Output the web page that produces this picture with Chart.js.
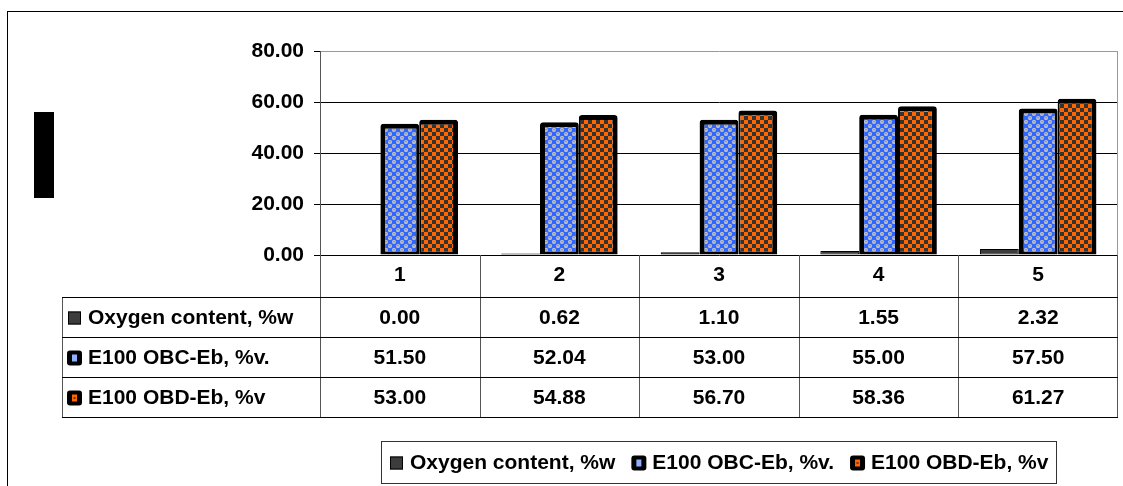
<!DOCTYPE html>
<html>
<head>
<meta charset="utf-8">
<script src="https://cdn.jsdelivr.net/npm/chart.js@4/dist/chart.umd.min.js"></script>
<style>
  html, body { margin: 0; padding: 0; background: #fff; }
  #wrap { width: 1123px; height: 486px; position: relative; }
</style>
</head>
<body>
<div id="wrap"><canvas id="chart" width="1123" height="486"></canvas></div>
<script>
// ---- data ----
const categories = ['1', '2', '3', '4', '5'];
const seriesNames = ['Oxygen content, %w', 'E100 OBC-Eb, %v.', 'E100 OBD-Eb, %v'];
const oxygenContent = [0.00, 0.62, 1.10, 1.55, 2.32];
const obcValues = [51.50, 52.04, 53.00, 55.00, 57.50];
const obdValues = [53.00, 54.88, 56.70, 58.36, 61.27];
const yTicks = [0, 20, 40, 60, 80];

const FONT = '"Liberation Sans", Arial, sans-serif';
const BOLD21 = 'bold 21px ' + FONT;

const canvas = document.getElementById('chart');
const mainCtx = canvas.getContext('2d');

// 8x8 fill tiles for the patterned bars
function makePattern(draw) {
  const t = document.createElement('canvas');
  t.width = 8; t.height = 8;
  const g = t.getContext('2d');
  draw(g);
  return mainCtx.createPattern(t, 'repeat');
}
const bluePattern = makePattern(g => {
  g.fillStyle = '#2f66ff';
  g.fillRect(0, 0, 8, 8);
  g.fillStyle = '#c0c0c0';
  [[2, 2], [6, 6]].forEach(([cx, cy]) => {
    g.beginPath(); g.arc(cx, cy, 2.1, 0, Math.PI * 2); g.fill();
  });
  g.strokeStyle = '#5b82f0'; g.lineWidth = 0.8;
  g.beginPath(); g.arc(2, 2.6, 1.1, Math.PI * 1.1, Math.PI * 1.9); g.stroke();
  g.beginPath(); g.arc(6, 6.6, 1.1, Math.PI * 1.1, Math.PI * 1.9); g.stroke();
});
const orangePattern = makePattern(g => {
  g.fillStyle = '#ff6600';
  g.fillRect(0, 0, 8, 8);
  g.fillStyle = '#333333';
  g.fillRect(4, 0, 4, 4);
  g.fillRect(0, 4, 4, 4);
});

// small legend / table key markers
function roundRect(ctx, x, y, w, h, r) {
  ctx.beginPath();
  ctx.moveTo(x + r, y);
  ctx.arcTo(x + w, y, x + w, y + h, r);
  ctx.arcTo(x + w, y + h, x, y + h, r);
  ctx.arcTo(x, y + h, x, y, r);
  ctx.arcTo(x, y, x + w, y, r);
  ctx.closePath();
}
function drawKey(ctx, idx, x, cy) {
  if (idx === 0) {
    ctx.fillStyle = '#3c3c3c';
    ctx.fillRect(x + 1, cy - 6.5, 13, 13);
    ctx.strokeStyle = '#000'; ctx.lineWidth = 1;
    ctx.strokeRect(x + 1.5, cy - 6, 12, 12);
    return;
  }
  ctx.fillStyle = '#000';
  roundRect(ctx, x, cy - 7.5, 15, 15, 3);
  ctx.fill();
  ctx.fillStyle = idx === 1 ? '#8fb0ff' : '#ff6600';
  ctx.fillRect(x + 5, cy - 3.5, 5, 7);
  if (idx === 2) { ctx.fillStyle = '#7a3000'; ctx.fillRect(x + 6.5, cy - 1, 2, 2); }
}

// data table under the plot, outer frame, legend box
const tablePlugin = {
  id: 'dataTable',
  afterDraw(chart) {
    const ctx = chart.ctx;
    const a = chart.chartArea;
    const xs = chart.scales.x;
    const rows = [oxygenContent, obcValues, obdValues];
    const headH = 42, rowH = 40;
    const top = a.bottom;
    const rowTop = top + headH;
    const bottom = rowTop + rows.length * rowH;
    const left = 62;

    ctx.save();
    // outer frame and blacked-out axis title block
    ctx.strokeStyle = '#000'; ctx.lineWidth = 1;
    ctx.strokeRect(7.5, 11.5, 1400, 700);
    ctx.fillStyle = '#000';
    ctx.fillRect(34, 112, 20, 86);

    // plot area right border
    ctx.strokeStyle = '#999';
    ctx.beginPath(); ctx.moveTo(a.right - 0.5, a.top); ctx.lineTo(a.right - 0.5, a.bottom); ctx.stroke();

    // column boundaries
    const centers = categories.map((_, i) => xs.getPixelForValue(i));
    const bounds = [a.left];
    for (let i = 1; i < centers.length; i++) bounds.push((centers[i - 1] + centers[i]) / 2);
    bounds.push(a.right);

    ctx.strokeStyle = '#555';
    bounds.forEach((bx, i) => {
      const px = Math.round(bx) + (i === bounds.length - 1 ? -0.5 : 0.5);
      ctx.beginPath(); ctx.moveTo(px, top); ctx.lineTo(px, bottom); ctx.stroke();
    });
    ctx.beginPath(); ctx.moveTo(left + 0.5, rowTop); ctx.lineTo(left + 0.5, bottom); ctx.stroke();

    // row lines
    ctx.strokeStyle = '#000';
    for (let r = 0; r <= rows.length; r++) {
      const y = Math.round(rowTop + r * rowH) + 0.5;
      ctx.beginPath(); ctx.moveTo(left, y); ctx.lineTo(a.right, y); ctx.stroke();
    }

    // cells
    ctx.font = BOLD21;
    ctx.fillStyle = '#000';
    ctx.textBaseline = 'middle';
    rows.forEach((vals, r) => {
      const cy = rowTop + r * rowH + rowH / 2 + 1;
      ctx.textAlign = 'center';
      ctx.fillStyle = '#000';
      vals.forEach((v, i) => ctx.fillText(v.toFixed(2), centers[i], cy));
      drawKey(ctx, r, left + 5, cy);
      ctx.fillStyle = '#000';
      ctx.textAlign = 'left';
      ctx.fillText(seriesNames[r], left + 26, cy);
    });

    // legend
    const lgTop = 441, lgH = 42, keyW = 15, keyGap = 6, itemGap = 16, padX = 8;
    const widths = seriesNames.map(s => ctx.measureText(s).width);
    const total = widths.reduce((s, w) => s + keyW + keyGap + w, 0) + itemGap * (seriesNames.length - 1) + padX * 2;
    const lgLeft = Math.round((a.left + a.right) / 2 - total / 2);
    ctx.strokeStyle = '#333';
    ctx.strokeRect(lgLeft + 0.5, lgTop + 0.5, Math.round(total), lgH);
    let lx = lgLeft + padX;
    const lcy = lgTop + lgH / 2 + 1;
    seriesNames.forEach((s, i) => {
      drawKey(ctx, i, lx, lcy);
      ctx.fillStyle = '#000';
      ctx.textAlign = 'left';
      ctx.fillText(s, lx + keyW + keyGap, lcy);
      lx += keyW + keyGap + widths[i] + itemGap;
    });
    ctx.restore();
  }
};

const thickBorder = (left, right) => ({ top: 5, left, right, bottom: 3 });

new Chart(canvas, {
  type: 'bar',
  data: {
    labels: categories,
    datasets: [
      {
        label: seriesNames[0],
        data: oxygenContent,
        backgroundColor: '#3c3c3c',
        borderColor: '#000',
        borderWidth: 1,
        borderSkipped: false
      },
      {
        label: seriesNames[1],
        data: obcValues,
        backgroundColor: bluePattern,
        borderColor: '#000',
        borderWidth: thickBorder(5, 3),
        borderSkipped: false,
        borderRadius: { topLeft: 3, topRight: 3 }
      },
      {
        label: seriesNames[2],
        data: obdValues,
        backgroundColor: orangePattern,
        borderColor: '#000',
        borderWidth: thickBorder(2, 5),
        borderSkipped: false,
        borderRadius: { topLeft: 3, topRight: 3 }
      }
    ]
  },
  options: {
    responsive: false,
    animation: false,
    datasets: { bar: { categoryPercentage: 0.73, barPercentage: 1.0 } },
    layout: { padding: { top: 51, left: 0, right: 5, bottom: 0 } },
    plugins: { legend: { display: false }, tooltip: { enabled: false } },
    scales: {
      x: {
        grid: { display: false, drawTicks: false },
        border: { display: false },
        ticks: { font: { family: FONT, size: 21, weight: 'bold' }, color: '#000', padding: 8 },
        afterFit: s => { s.height = 231; }
      },
      y: {
        min: 0,
        max: 80,
        afterBuildTicks: s => { s.ticks = yTicks.map(v => ({ value: v })); },
        grid: {
          color: c => (c.tick && c.tick.value === 80 ? '#999' : '#000'),
          tickColor: '#000',
          tickLength: 6
        },
        border: { display: true, color: '#555' },
        ticks: {
          font: { family: FONT, size: 21, weight: 'bold' },
          color: '#000',
          padding: 10,
          callback: v => Number(v).toFixed(2)
        },
        afterFit: s => { s.width = 320; }
      }
    }
  },
  plugins: [tablePlugin]
});
</script>
</body>
</html>
